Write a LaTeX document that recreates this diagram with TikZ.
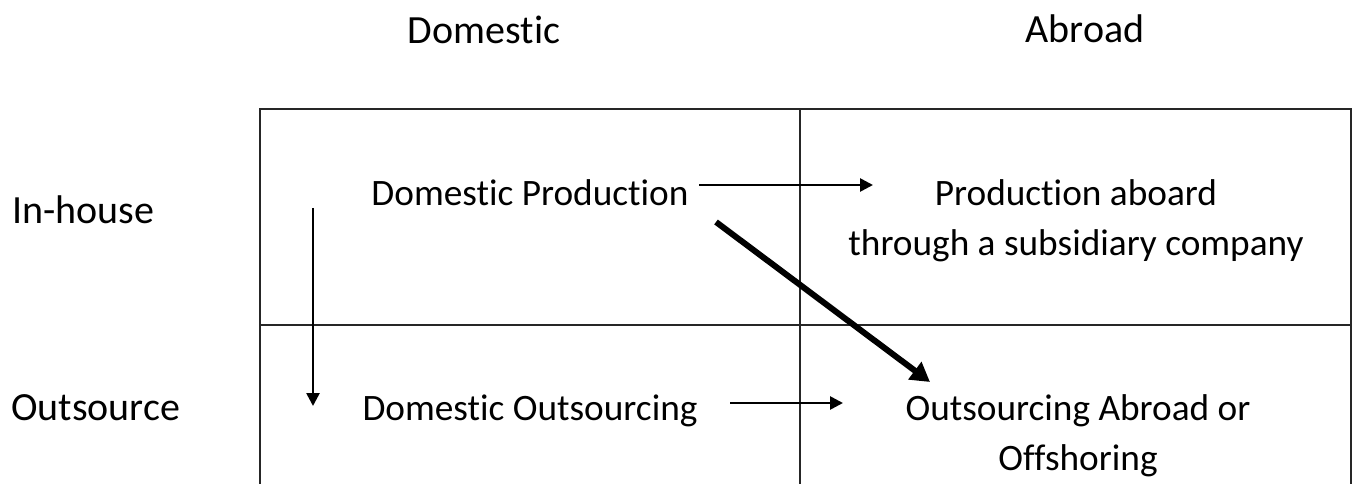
\documentclass[tikz,border=0pt]{standalone}
\usepackage{fontspec}
\setmainfont{Carlito}[Ligatures={NoCommon},RawFeature={-liga;-clig;-calt;-dlig}]
\usetikzlibrary{arrows.meta}
\begin{document}
\begin{tikzpicture}[x=1pt,y=1pt,
  txt/.style={inner sep=0pt,anchor=base,align=center,font=\fontsize{37.3}{50}\selectfont},
  hdr/.style={inner sep=0pt,anchor=base,font=\fontsize{40}{48}\selectfont},
  lbl/.style={inner sep=0pt,anchor=base west,font=\fontsize{40}{48}\selectfont},
  grid/.style={line width=2pt,draw=black!85},
  thin/.style={line width=2.6pt,-{Triangle[length=13pt,width=13pt]}},
  thick/.style={line width=6pt,-{Triangle[length=19pt,width=21pt]}}]
\useasboundingbox (0,0) rectangle (1353,-484);
% grid
\draw[grid] (260,-484) -- (260,-109) -- (1351,-109) -- (1351,-484);
\draw[grid] (800,-109) -- (800,-484);
\draw[grid] (260,-325) -- (1351,-325);
% headers
\node[hdr] (hd) at (484,-44) {Domestic};
\node[hdr] (ha) at (1085,-43) {Abroad};
\node[lbl] (ri) at (12,-223) {In-house};
\node[lbl] (ro) at (11,-420) {Outsource};
% cells
\node[txt] (dp) at (530,-205) {Domestic Production};
\node[txt] (pa) at (1076,-255) {Production aboard\\through a subsidiary company};
\node[txt] (dos) at (530,-420) {Domestic Outsourcing};
\node[txt] (oa) at (1078,-470) {Outsourcing Abroad or\\Offshoring};
% arrow end points
\coordinate (t1) at (699,-185);
\coordinate (t2) at (873,-185);
\coordinate (b1) at (730,-403);
\coordinate (b2) at (843,-403);
\coordinate (v1) at (313,-208);
\coordinate (v2) at (313,-406);
\coordinate (d1) at (716,-222);
\coordinate (d2) at (930,-382);
\draw[thin] (t1) -- (t2);
\draw[thin] (b1) -- (b2);
\draw[thin] (v1) -- (v2);
\draw[thick] (d1) -- (d2);
\end{tikzpicture}
\end{document}
